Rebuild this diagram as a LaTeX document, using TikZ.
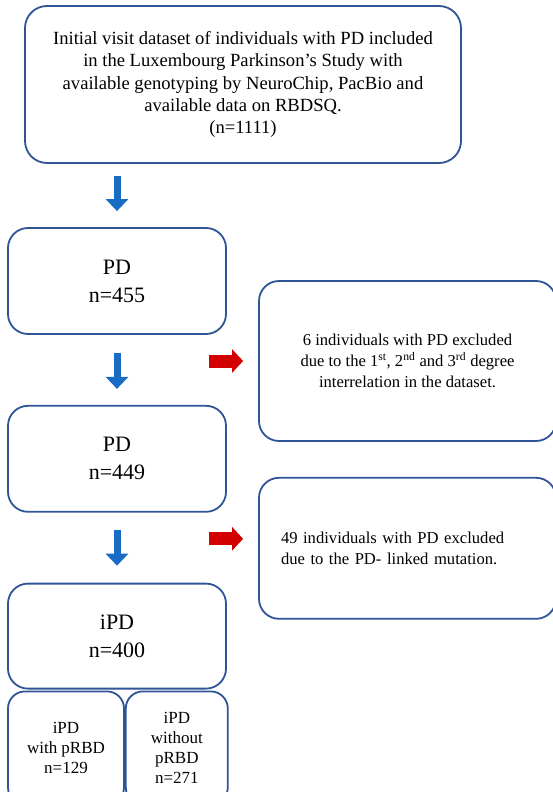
\documentclass[tikz,border=0pt]{standalone}
\usepackage{fontspec}
\setmainfont{Liberation Serif}
\usetikzlibrary{positioning,arrows.meta}
\definecolor{boxblue}{RGB}{47,85,151}
\definecolor{arrblue}{RGB}{24,108,196}
\definecolor{arrred}{RGB}{210,0,0}

\begin{document}
\begin{tikzpicture}[
    x=1pt, y=1pt,
    node distance=70pt and 30pt,
    flowbox/.style={rectangle, draw=boxblue, line width=1.8pt, fill=white,
        align=center, rounded corners=20pt, inner sep=4pt},
    startbox/.style={flowbox, minimum width=436pt, minimum height=157pt,
        rounded corners=22pt, font=\fontsize{18.6}{22.3}\selectfont},
    stagebox/.style={flowbox, minimum width=218pt, minimum height=106pt,
        font=\fontsize{22}{28}\selectfont},
    exclbox/.style={flowbox, minimum width=297pt, minimum height=160pt,
        font=\fontsize{16.6}{21}\selectfont},
    groupbox/.style={flowbox, minimum height=113pt, rounded corners=17pt,
        font=\fontsize{17}{20.3}\selectfont},
    downarrow/.style={draw=arrblue, line width=7pt,
        -{Triangle[length=12pt, width=22pt]}},
    exclarrow/.style={draw=arrred, line width=13pt,
        -{Triangle[length=11pt, width=23pt]}}
]
\useasboundingbox (0,0) rectangle (553,-792);

% Inclusion column
\node[startbox] (init) at (243,-84.5) {Initial visit dataset of individuals with PD included\\
    in the Luxembourg Parkinson's Study with\\
    available genotyping by NeuroChip, PacBio and\\
    available data on RBDSQ.\\
    (n=1111)};
\node[stagebox] (pd1) at (117,-281) {PD\\n=455};
\node[stagebox, below=70pt of pd1] (pd2) {PD\\n=449};
\node[stagebox, below=70pt of pd2, minimum height=105pt] (ipd) {iPD\\n=400};

% RBD split
\node[groupbox, minimum width=116pt, below right=1pt and 0pt of ipd.south west] (withrbd) {iPD\\with pRBD\\n=129};
\node[groupbox, minimum width=102pt, right=0pt of withrbd] (norbd) {iPD\\without\\pRBD\\n=271};

% Exclusions
\node[exclbox] (excl1) at (407.5,-361) {6 individuals with PD excluded\\
    due to the 1\textsuperscript{st}, 2\textsuperscript{nd} and 3\textsuperscript{rd} degree\\
    interrelation in the dataset.};
\node[exclbox, below=35pt of excl1, minimum height=141pt, text width=253pt, align=left] (excl2) {49 individuals with PD excluded\\
    due to the PD- linked mutation.};
\coordinate (mut) at ([yshift=9.5pt]excl2.west);

% Arrows
\draw[downarrow, shorten <=12pt, shorten >=16pt] (init.south -| pd1.north) -- (pd1.north);
\draw[downarrow, shorten <=18pt, shorten >=16pt] (pd1.south) -- (pd2.north);
\draw[downarrow, shorten <=17pt, shorten >=17pt] (pd2.south) -- (ipd.north);
\draw[exclarrow, shorten <=-18pt, shorten >=15pt] (pd1.east |- excl1.west) -- (excl1.west);
\draw[exclarrow, shorten <=-18pt, shorten >=15pt] (pd2.east |- mut) -- (mut);

\end{tikzpicture}
\end{document}
